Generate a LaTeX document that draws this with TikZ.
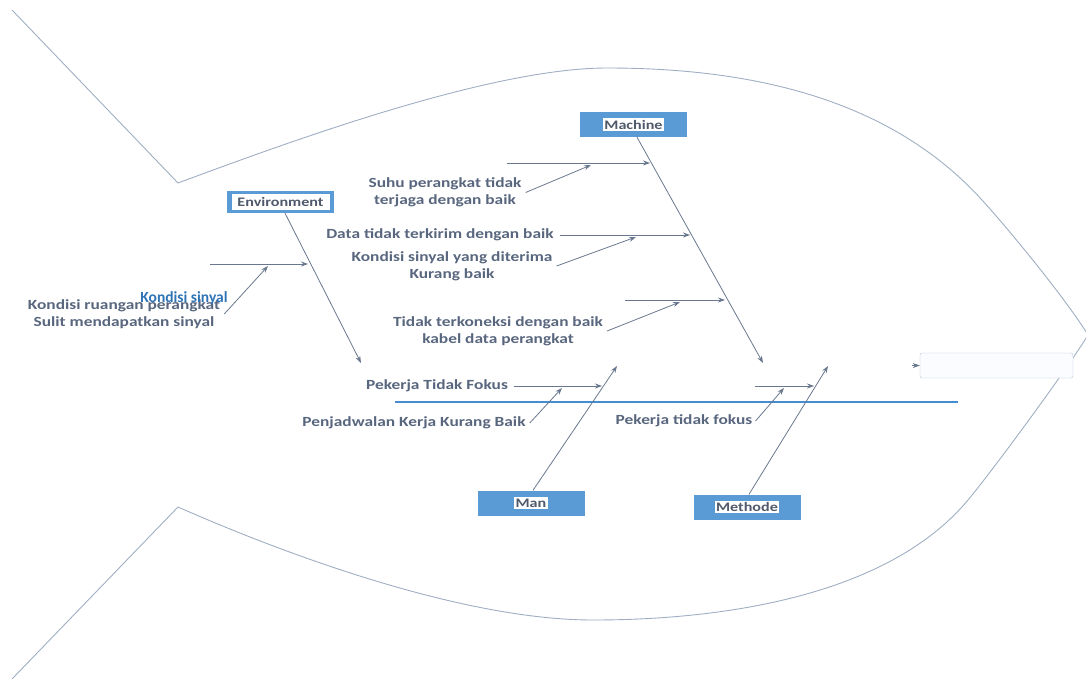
\documentclass[tikz,border=0pt]{standalone}
\usepackage{fontspec}
\setmainfont{Carlito}
\newfontfamily\lblfont[FakeStretch=1.24]{Carlito}
\newfontfamily\ksfont{Carlito}
\usetikzlibrary{arrows.meta}
\definecolor{txtc}{RGB}{88,102,126}
\definecolor{linec}{RGB}{105,120,142}
\definecolor{fishc}{RGB}{160,174,195}
\definecolor{catblue}{RGB}{91,155,213}
\definecolor{spinec}{RGB}{70,140,210}
\definecolor{ksblue}{RGB}{46,116,181}
\definecolor{cattxt}{RGB}{80,90,108}
\definecolor{headdraw}{RGB}{185,195,212}
\definecolor{headfill}{RGB}{250,252,255}
\begin{document}
\begin{tikzpicture}[x=1pt,y=-1pt,
  fish/.style={draw=fishc,line width=0.9pt},
  bone/.style={draw=linec,line width=0.8pt,-{Stealth[length=7pt,width=5pt]}},
  lbl/.style={font=\lblfont\bfseries\fontsize{14}{17}\selectfont,text=txtc,align=center,inner sep=0pt},
  catbox/.style={fill=catblue,minimum width=107pt,minimum height=25pt,inner sep=0pt},
  cattext/.style={fill=white,font=\lblfont\bfseries\fontsize{13}{15}\selectfont,text=cattxt,inner sep=1.5pt},
]
\useasboundingbox (0,0) rectangle (1086,679);

% fish outline
\coordinate (tailA) at (12,10);
\coordinate (tailB) at (178,183);
\coordinate (tailC) at (178,507);
\coordinate (tailD) at (12,679);
\coordinate (nose) at (1088,335);
\draw[fish] (tailA) -- (tailB)
  .. controls (278,146) and (487,68) .. (607,68)
  .. controls (757,68) and (892,101) .. (982,200)
  .. controls (1012,233) and (1068,302) .. (nose);
\draw[fish] (tailD) -- (tailC)
  .. controls (280,552) and (460,620) .. (593,620)
  .. controls (723,620) and (888,596) .. (968,500)
  .. controls (993,470) and (1068,368) .. (nose);

% spine
\coordinate (sp1) at (395,402);
\coordinate (sp2) at (958,402);
\draw[draw=spinec,line width=1.3pt] (sp1) -- (sp2);

% head
\node[draw=headdraw,fill=headfill,rounded corners=2pt,minimum width=153pt,minimum height=25pt,inner sep=0pt] (head) at (996.5,365.5) {};
\draw[bone] ([xshift=-8pt]head.west) -- (head.west);

% category boxes
\node[catbox] (mach) at (633.5,124.5) {};
\node[cattext] (machT) at (mach) {Machine};
\node[catbox,minimum height=22pt] (env) at (280.5,202) {};
\node[cattext,minimum width=98pt,minimum height=16pt,inner sep=0pt] (envT) at (env) {Environment};
\node[catbox] (man) at (531,503) {};
\node[cattext] (manT) at (man) {Man};
\node[catbox] (meth) at (747,507) {};
\node[cattext] (methT) at (meth) {Methode};

% main bones
\coordinate (mtip) at (763,363);
\draw[bone] ([xshift=3.5pt]mach.south) -- (mtip);
\coordinate (etip) at (361,363);
\draw[bone] ([xshift=4.5pt]env.south) -- (etip);
\coordinate (mantip) at (617,366);
\draw[bone] ([xshift=2pt]man.north) -- (mantip);
\coordinate (methtip) at (828,366);
\draw[bone] ([xshift=2pt]meth.north) -- (methtip);

% texts
\node[lbl] (suhu) at (445,192.5) {Suhu perangkat tidak\\terjaga dengan baik};
\node[lbl] (data) at (440,235) {Data tidak terkirim dengan baik};
\node[lbl] (kond) at (452,266) {Kondisi sinyal yang diterima\\Kurang baik};
\node[lbl] (tidak) at (498,331) {Tidak terkoneksi dengan baik\\kabel data perangkat};
\node[lbl] (pek1) at (437,386) {Pekerja Tidak Fokus};
\node[lbl] (penj) at (414,423) {Penjadwalan Kerja Kurang Baik};
\node[lbl] (pek2) at (684,421) {Pekerja tidak fokus};
\node[lbl] (kr) at (124,314) {Kondisi ruangan perangkat\\Sulit mendapatkan sinyal};
\node[font=\ksfont\bfseries\fontsize{15.5}{17}\selectfont,text=ksblue,inner sep=0pt] (ks) at (184,298) {Kondisi sinyal};

% Machine sub-branches
\coordinate (h1s) at (507,163);
\coordinate (h1t) at (650,163);
\draw[bone] (h1s) -- (h1t);
\coordinate (d1t) at (591,165);
\draw[bone] ([xshift=4pt]suhu.east) -- (d1t);

\coordinate (h2t) at (690,235);
\draw[bone] ([xshift=6pt]data.east) -- (h2t);
\coordinate (d2t) at (636,237);
\draw[bone] ([xshift=4pt]kond.east) -- (d2t);

\coordinate (h3s) at (625,300);
\coordinate (h3t) at (725,300);
\draw[bone] (h3s) -- (h3t);
\coordinate (d3t) at (680,302);
\draw[bone] ([xshift=4pt]tidak.east) -- (d3t);

% Environment sub-branch
\coordinate (h4s) at (210,264);
\coordinate (h4t) at (308,264);
\draw[bone] (h4s) -- (h4t);
\coordinate (d4t) at (268,266);
\draw[bone] ([xshift=4pt]kr.east) -- (d4t);

% Man sub-branch
\coordinate (h5t) at (602,386);
\draw[bone] ([xshift=6pt]pek1.east) -- (h5t);
\coordinate (d5t) at (562,388);
\draw[bone] ([xshift=4pt]penj.east) -- (d5t);

% Methode sub-branch
\coordinate (h6s) at (755,386);
\coordinate (h6t) at (814,386);
\draw[bone] (h6s) -- (h6t);
\coordinate (d6t) at (784,388);
\draw[bone] ([xshift=3pt]pek2.east) -- (d6t);
\end{tikzpicture}
\end{document}
